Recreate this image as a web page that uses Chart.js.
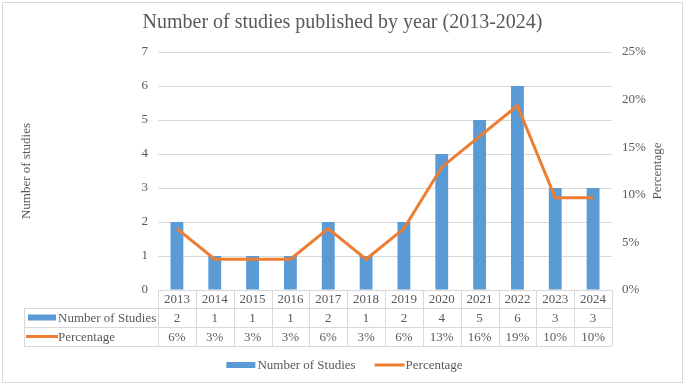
<!DOCTYPE html>
<html>
<head>
<meta charset="utf-8">
<script src="https://cdn.jsdelivr.net/npm/chart.js@4/dist/chart.umd.min.js"></script>
<style>
  html, body { margin: 0; padding: 0; background: #fff; }
  #wrap { width: 685px; height: 385px; position: relative; }
</style>
</head>
<body>
<div id="wrap"><canvas id="chart"></canvas></div>
<script>
const years = ['2013', '2014', '2015', '2016', '2017', '2018', '2019', '2020', '2021', '2022', '2023', '2024'];
const studyCounts = [2, 1, 1, 1, 2, 1, 2, 4, 5, 6, 3, 3];
const percentages = [6.45, 3.23, 3.23, 3.23, 6.45, 3.23, 6.45, 12.9, 16.13, 19.35, 9.68, 9.68];
const leftTicks = [0, 1, 2, 3, 4, 5, 6, 7];
const rightTicks = [0, 5, 10, 15, 20, 25];

const titleText = 'Number of studies published by year (2013-2024)';
const leftTitle = 'Number of studies';
const rightTitle = 'Percentage';

const BLUE = '#5B9BD5';
const ORANGE = '#ED7D31';
const GRID = '#d9d9d9';
const TEXT = '#595959';
const FONT = '"Liberation Serif", "Times New Roman", serif';

// draws the data table under the plot, the axis titles, the legend and the frame
const extras = {
  id: 'extras',
  afterDraw(chart) {
    const ctx = chart.ctx;
    const x = chart.scales.x;
    const area = chart.chartArea;
    const half = (x.getPixelForValue(1) - x.getPixelForValue(0)) / 2;
    const left = x.getPixelForValue(0) - half;
    const right = x.getPixelForValue(years.length - 1) + half;
    const labelLeft = 24;
    const r0 = area.bottom, r1 = r0 + 18, r2 = r1 + 19, r3 = r2 + 19;

    ctx.save();
    ctx.strokeStyle = GRID;
    ctx.lineWidth = 1;
    ctx.beginPath();
    [r1, r2, r3].forEach(y => { ctx.moveTo(labelLeft, y + 0.5); ctx.lineTo(right, y + 0.5); });
    ctx.moveTo(left, r0 + 0.5); ctx.lineTo(right, r0 + 0.5);
    ctx.moveTo(labelLeft + 0.5, r1); ctx.lineTo(labelLeft + 0.5, r3);
    for (let i = 0; i <= years.length; i++) {
      const cx = Math.round(left + i * half * 2) + 0.5;
      ctx.moveTo(cx, r0); ctx.lineTo(cx, r3);
    }
    ctx.stroke();

    ctx.fillStyle = TEXT;
    ctx.font = '13px ' + FONT;
    ctx.textAlign = 'center';
    ctx.textBaseline = 'middle';
    years.forEach((yr, i) => {
      const cx = x.getPixelForValue(i);
      ctx.fillText(yr, cx, (r0 + r1) / 2 + 1);
      ctx.fillText(String(studyCounts[i]), cx, (r1 + r2) / 2 + 1);
      ctx.fillText(Math.round(percentages[i]) + '%', cx, (r2 + r3) / 2 + 1);
    });

    // row keys
    ctx.textAlign = 'left';
    ctx.fillStyle = BLUE;
    ctx.fillRect(28, (r1 + r2) / 2 - 3, 28, 6);
    ctx.strokeStyle = ORANGE;
    ctx.lineWidth = 3;
    ctx.beginPath();
    ctx.moveTo(26, (r2 + r3) / 2); ctx.lineTo(58, (r2 + r3) / 2);
    ctx.stroke();
    ctx.fillStyle = TEXT;
    ctx.fillText(chart.data.datasets[1].label, 58, (r1 + r2) / 2 + 1);
    ctx.fillText(chart.data.datasets[0].label, 58, (r2 + r3) / 2 + 1);

    // axis titles
    ctx.textAlign = 'center';
    const midY = (area.top + area.bottom) / 2;
    ctx.save();
    ctx.translate(27, midY);
    ctx.rotate(-Math.PI / 2);
    ctx.fillText(leftTitle, 0, 0);
    ctx.restore();
    ctx.save();
    ctx.translate(658, midY);
    ctx.rotate(-Math.PI / 2);
    ctx.fillText(rightTitle, 0, 0);
    ctx.restore();

    // legend
    const ly = 365;
    const l1 = chart.data.datasets[1].label;
    const l2 = chart.data.datasets[0].label;
    const w1 = ctx.measureText(l1).width;
    const w2 = ctx.measureText(l2).width;
    const total = 31 + w1 + 19 + 31 + w2;
    let lx = chart.width / 2 - total / 2 + 2;
    ctx.fillStyle = BLUE;
    ctx.fillRect(lx, ly - 3, 29, 6);
    ctx.fillStyle = TEXT;
    ctx.textAlign = 'left';
    ctx.fillText(l1, lx + 31, ly + 1);
    lx += 31 + w1 + 19;
    ctx.strokeStyle = ORANGE;
    ctx.lineWidth = 3;
    ctx.beginPath();
    ctx.moveTo(lx, ly); ctx.lineTo(lx + 30, ly);
    ctx.stroke();
    ctx.fillText(l2, lx + 31, ly + 1);

    // frame
    ctx.strokeStyle = GRID;
    ctx.lineWidth = 1;
    ctx.strokeRect(2.5, 2.5, chart.width - 5, chart.height - 5);
    ctx.restore();
  }
};

new Chart(document.getElementById('chart'), {
  data: {
    labels: years,
    datasets: [
      {
        type: 'line',
        label: 'Percentage',
        data: percentages,
        yAxisID: 'y1',
        borderColor: ORANGE,
        backgroundColor: ORANGE,
        borderWidth: 3,
        pointRadius: 0,
        tension: 0,
        order: 1
      },
      {
        type: 'bar',
        label: 'Number of Studies',
        data: studyCounts,
        yAxisID: 'y',
        backgroundColor: BLUE,
        barPercentage: 0.34,
        categoryPercentage: 1,
        order: 2
      }
    ]
  },
  options: {
    responsive: true,
    maintainAspectRatio: false,
    animation: false,
    layout: { padding: { left: 0, right: 0, top: 0, bottom: 39 } },
    plugins: {
      legend: { display: false },
      tooltip: { enabled: false },
      title: {
        display: true,
        text: titleText,
        color: TEXT,
        font: { family: FONT, size: 20, weight: 'normal' },
        padding: { top: 11, bottom: 17 }
      }
    },
    scales: {
      x: {
        grid: { display: false },
        border: { display: false },
        ticks: { display: false },
        afterFit: s => { s.height = 56; }
      },
      y: {
        position: 'left',
        min: leftTicks[0],
        max: leftTicks[leftTicks.length - 1],
        afterBuildTicks: s => { s.ticks = leftTicks.map(v => ({ value: v })); },
        ticks: { color: TEXT, font: { family: FONT, size: 13 }, padding: 10 },
        grid: { color: GRID, drawTicks: false },
        border: { display: false },
        afterFit: s => { s.width = 158; }
      },
      y1: {
        position: 'right',
        min: rightTicks[0],
        max: rightTicks[rightTicks.length - 1],
        afterBuildTicks: s => { s.ticks = rightTicks.map(v => ({ value: v })); },
        ticks: { color: TEXT, font: { family: FONT, size: 13 }, padding: 10, callback: v => v + '%' },
        grid: { display: false, drawTicks: false },
        border: { display: false },
        afterFit: s => { s.width = 73; }
      }
    }
  },
  plugins: [extras]
});
</script>
</body>
</html>
